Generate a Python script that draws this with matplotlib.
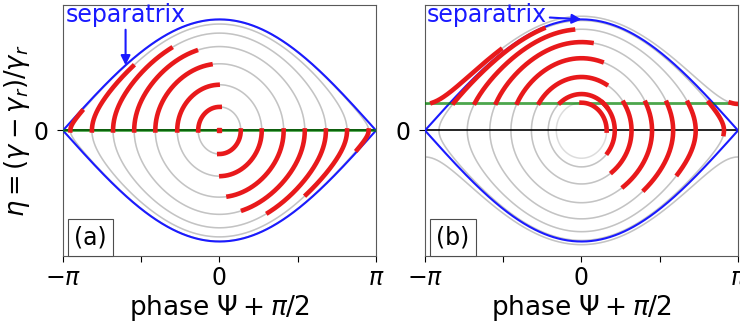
import numpy as np
import matplotlib
matplotlib.use("Agg")
import matplotlib.pyplot as plt

# initial phases of the sample electrons (units of pi)
start_phase = np.array([-0.953, -0.815, -0.68, -0.545, -0.41, -0.27, -0.136, 0.0,
                        0.136, 0.27, 0.41, 0.545, 0.68, 0.815, 0.953]) * np.pi
# initial energy offset for each panel (separatrix half-height = 2)
start_eta = {"(a)": 0.0, "(b)": 0.5}
sep_height = 2.0
t_evolve = 1.6
panels = ["(a)", "(b)"]


def hamiltonian(x, eta):
    return 0.5 * eta**2 - (sep_height / 2) ** 2 * np.cos(x)


def trajectory(x0, eta0, t_end, n=800):
    # RK4 for the pendulum equations x' = eta, eta' = -Omega^2 sin x
    w2 = (sep_height / 2) ** 2
    dt = t_end / n
    xs, es = [x0], [eta0]
    x, e = x0, eta0
    for _ in range(n):
        k1x, k1e = e, -w2 * np.sin(x)
        k2x, k2e = e + 0.5 * dt * k1e, -w2 * np.sin(x + 0.5 * dt * k1x)
        k3x, k3e = e + 0.5 * dt * k2e, -w2 * np.sin(x + 0.5 * dt * k2x)
        k4x, k4e = e + dt * k3e, -w2 * np.sin(x + dt * k3x)
        x += dt / 6 * (k1x + 2 * k2x + 2 * k3x + k4x)
        e += dt / 6 * (k1e + 2 * k2e + 2 * k3e + k4e)
        xs.append(x)
        es.append(e)
    return np.array(xs), np.array(es)


fig = plt.figure(figsize=(7.4, 3.24), dpi=100)
ax_pos = {"(a)": [0.0851, 0.210, 0.423, 0.7747],
          "(b)": [0.5743, 0.210, 0.423, 0.7747]}

xg = np.linspace(-np.pi, np.pi, 700)
yg = np.linspace(-2.4, 2.4, 700)
XG, YG = np.meshgrid(xg, yg)
HG = hamiltonian(XG, YG)

for name in panels:
    ax = fig.add_axes(ax_pos[name])
    eta0 = start_eta[name]

    # orbit of every electron, light grey (symmetric pairs overlap and look darker)
    for x0 in start_phase:
        lev = hamiltonian(x0, eta0)
        if lev <= HG.min():
            continue
        ax.contour(XG, YG, HG, levels=[lev], colors="gray", linewidths=1.1,
                   linestyles="solid", alpha=0.27)

    # separatrix
    xs = np.linspace(-np.pi, np.pi, 400)
    ax.plot(xs, sep_height * np.cos(xs / 2), color="#1a1aff", lw=1.5, zorder=3)
    ax.plot(xs, -sep_height * np.cos(xs / 2), color="#1a1aff", lw=1.5, zorder=3)

    ax.axhline(0, color="black", lw=1.2, zorder=2)
    ax.axhline(eta0, color="green", lw=2.0, alpha=0.7, zorder=4)

    for x0 in start_phase:
        tx, te = trajectory(x0, eta0, t_evolve)
        ax.plot(tx, te, color="#e8191b", lw=3.3, zorder=5, solid_capstyle="projecting")
        if np.ptp(tx) < 1e-6:
            ax.plot(tx[:1], te[:1], "s", color="#e8191b", ms=3, zorder=5)

    ax.set_xlim(-np.pi, np.pi)
    ax.set_ylim(-2.26, 2.26)
    ax.set_xticks([-np.pi, -np.pi / 2, 0, np.pi / 2, np.pi])
    ax.set_xticklabels([r"$-\pi$", "", "0", "", r"$\pi$"], fontsize=17)
    ax.set_yticks([0])
    ax.set_yticklabels(["0"], fontsize=17)
    ax.tick_params(axis="y", length=4.5, pad=6)
    ax.tick_params(axis="x", length=4)
    for sp in ax.spines.values():
        sp.set_color("0.35")
    ax.set_xlabel(r"phase $\Psi + \pi/2$", fontsize=19, labelpad=2)
    if name == "(a)":
        ax.set_ylabel(r"$\eta = (\gamma - \gamma_r)/\gamma_r$", fontsize=18.5, labelpad=1)
        xp = -0.6 * np.pi
        ax.annotate("separatrix", xy=(xp, sep_height * np.cos(xp / 2)),
                    xytext=(xp, 2.08), ha="center", va="center", color="#1a1aff",
                    fontsize=17,
                    arrowprops=dict(arrowstyle="-|>", color="#1a1aff", lw=1.5,
                                    mutation_scale=14, shrinkA=0, shrinkB=0))
    else:
        ax.annotate("separatrix", xy=(0, sep_height), xytext=(-0.604 * np.pi, 2.08),
                    ha="center", va="center", color="#1a1aff", fontsize=17,
                    arrowprops=dict(arrowstyle="-|>", color="#1a1aff", lw=1.5,
                                    mutation_scale=14, shrinkA=0, shrinkB=0,
                                    relpos=(1.0, 0.4)))

    ax.text(0.035, 0.025, name, transform=ax.transAxes, fontsize=17,
            ha="left", va="bottom", zorder=6,
            bbox=dict(boxstyle="square,pad=0.27", fc="white", ec="0.3", lw=0.8))

fig.savefig("out.png", dpi=100)
